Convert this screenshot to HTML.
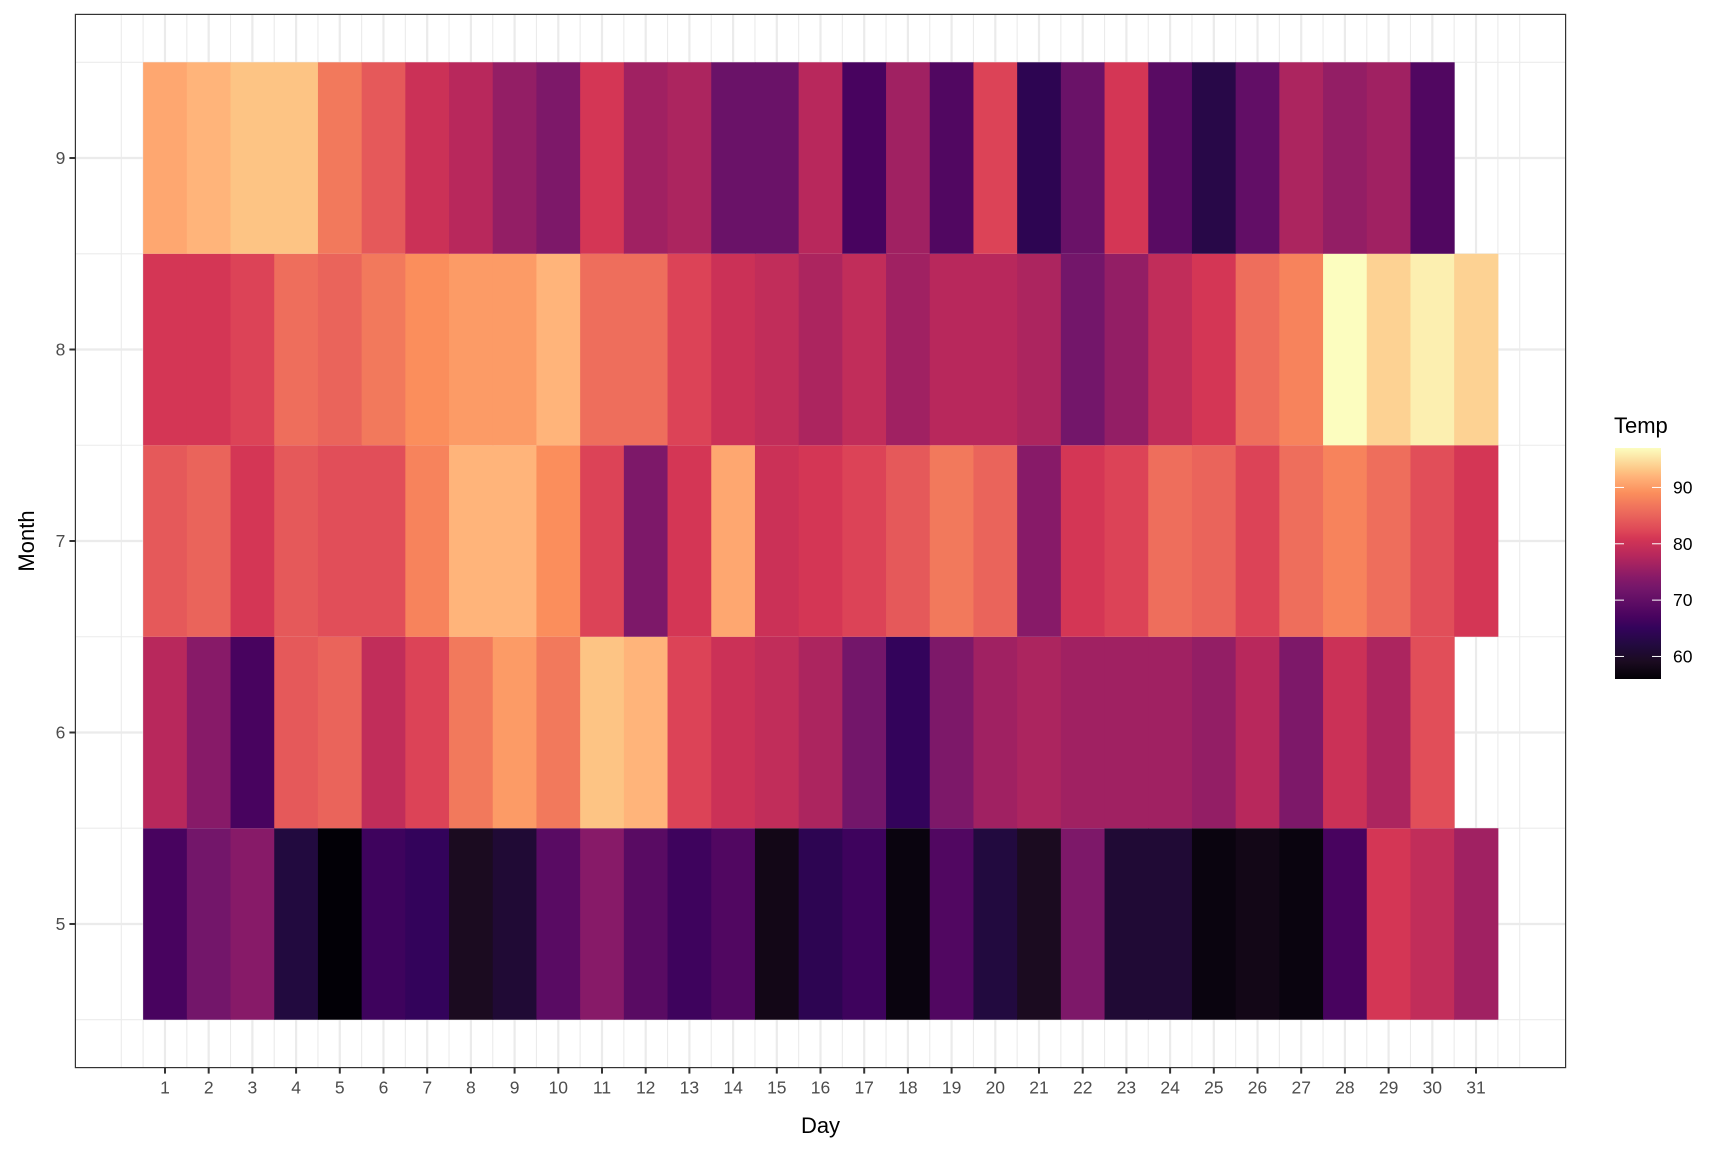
<!DOCTYPE html>
<html><head><meta charset="utf-8"><style>body{margin:0;background:#fff}svg{display:block}</style></head>
<body>
<svg id="chart" width="1728" height="1152" xmlns="http://www.w3.org/2000/svg" font-family="Liberation Sans, sans-serif"></svg>
<script>
const months = [5,6,7,8,9];
const tempMay = [67,72,74,62,56,66,65,59,61,69,74,69,66,68,58,64,66,57,68,62,59,73,61,61,57,58,57,67,81,79,76];
const tempJun = [78,74,67,84,85,79,82,87,90,87,93,92,82,80,79,77,72,65,73,76,77,76,76,76,75,78,73,80,77,83];
const tempJul = [84,85,81,84,83,83,88,92,92,89,82,73,81,91,80,81,82,84,87,85,74,81,82,86,85,82,86,88,86,83,81];
const tempAug = [81,81,82,86,85,87,89,90,90,92,86,86,82,80,79,77,79,76,78,78,77,72,75,79,81,86,88,97,94,96,94];
const tempSep = [91,92,93,93,87,84,80,78,75,73,81,76,77,71,71,78,67,76,68,82,64,71,81,69,63,70,77,75,76,68];
const series = [tempMay,tempJun,tempJul,tempAug,tempSep];
const dayTicks = Array.from({length:31},(_,i)=>i+1);
const monthTicks = [5,6,7,8,9];
const legendTicks = [60,70,80,90];

const NS='http://www.w3.org/2000/svg';
const svg=document.getElementById('chart');
function mk(t,a,p){const e=document.createElementNS(NS,t);for(const k in a)e.setAttribute(k,a[k]);(p||svg).appendChild(e);return e;}
const L=75.4,R=1565.6,T=14.4,B=1067.6;
const xmin=-1.05,xmax=33.05,ymin=4.25,ymax=9.75;
const X=v=>L+(v-xmin)/(xmax-xmin)*(R-L);
const Y=v=>B-(v-ymin)/(ymax-ymin)*(B-T);
const vmin=56,vmax=97;
const cs=[[56,'#020006'],[59,'#1b0b20'],[62,'#220a3f'],[65,'#33035b'],[67,'#48035f'],[72,'#73166a'],[74,'#871a68'],[78,'#b8285c'],[81,'#d43655'],[82,'#dc4357'],[84,'#e5595a'],[86,'#ee6e5c'],[89,'#fb8e5c'],[92,'#ffb47a'],[93,'#fdc484'],[97,'#fcfdbf']];
function hx(c){return [1,3,5].map(i=>parseInt(c.substr(i,2),16));}
function col(v){v=Math.max(vmin,Math.min(vmax,v));let i=0;while(i<cs.length-2&&v>cs[i+1][0])i++;const r=(v-cs[i][0])/(cs[i+1][0]-cs[i][0]);const a=hx(cs[i][1]),b=hx(cs[i+1][1]);return 'rgb('+a.map((x,k)=>Math.round(x+(b[k]-x)*r)).join(',')+')';}

mk('rect',{x:L,y:T,width:R-L,height:B-T,fill:'#fff'});
const grid=mk('g',{});


for(let v=0;v<=32.01;v+=0.5){const maj=Number.isInteger(v)&&v>=1&&v<=31;mk('line',{x1:X(v),x2:X(v),y1:T,y2:B,stroke:'#ebebeb','stroke-width':maj?2.2:1.1},grid);}
for(let v=4.5;v<=9.51;v+=0.5){const maj=Number.isInteger(v);mk('line',{y1:Y(v),y2:Y(v),x1:L,x2:R,stroke:'#ebebeb','stroke-width':maj?2.2:1.1},grid);}

const tiles=mk('g',{});


series.forEach((arr,mi)=>{const m=months[mi];arr.forEach((v,di)=>{const d=di+1;
const r=mk('rect',{x:X(d-0.5),y:Y(m+0.5),width:X(d+0.5)-X(d-0.5)+0.5,height:Y(m-0.5)-Y(m+0.5),fill:col(v)},tiles);


});});

const border=mk('rect',{x:L,y:T,width:R-L,height:B-T,fill:'none',stroke:'#333','stroke-width':1.2});



dayTicks.forEach(d=>{mk('line',{x1:X(d),x2:X(d),y1:B,y2:B+6,stroke:'#333','stroke-width':2});
const t=mk('text',{x:X(d),y:B+26,'text-anchor':'middle','font-size':17.5,fill:'#4d4d4d'});t.textContent=d;

});
monthTicks.forEach(m=>{mk('line',{x1:L-6,x2:L,y1:Y(m),y2:Y(m),stroke:'#333','stroke-width':2});
const t=mk('text',{x:L-10,y:Y(m)+6,'text-anchor':'end','font-size':17.5,fill:'#4d4d4d'});t.textContent=m;

});
const xt=mk('text',{x:(L+R)/2,y:1133,'text-anchor':'middle','font-size':22,fill:'#000'});xt.textContent='Day';


const yt=mk('text',{x:0,y:0,transform:'translate(34,541) rotate(-90)','text-anchor':'middle','font-size':22,fill:'#000'});yt.textContent='Month';



// legend
const lg=mk('g',{});


const defs=mk('defs',{});const gr=mk('linearGradient',{id:'mg',x1:0,y1:1,x2:0,y2:0},defs);
cs.forEach(s=>mk('stop',{offset:(s[0]-vmin)/(vmax-vmin),'stop-color':s[1]},gr));
const lt=mk('text',{x:1614,y:433,'font-size':22,fill:'#000'},lg);lt.textContent='Temp';


const bT=448,bB=679,bL=1615,bW=46;
const LY=v=>bB-(v-vmin)/(vmax-vmin)*(bB-bT);
const bar=mk('rect',{x:bL,y:bT,width:bW,height:bB-bT,fill:'url(#mg)'},lg);


legendTicks.forEach(v=>{const y=LY(v);
mk('line',{x1:bL,x2:bL+9,y1:y,y2:y,stroke:'#fff','stroke-width':1},lg);
mk('line',{x1:bL+bW-9,x2:bL+bW,y1:y,y2:y,stroke:'#fff','stroke-width':1},lg);
const t=mk('text',{x:bL+bW+12,y:y+6,'font-size':17.5,fill:'#000'},lg);t.textContent=v;

});
</script>
</body></html>
